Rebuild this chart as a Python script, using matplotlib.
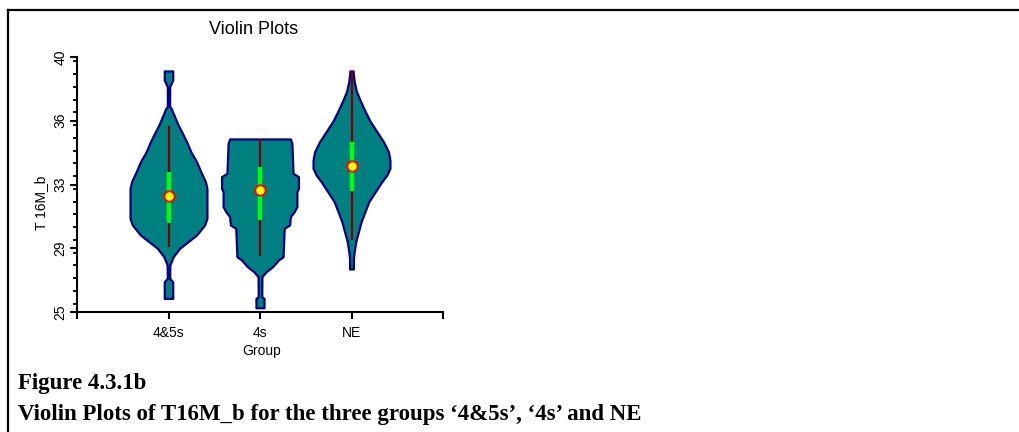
"""Violin plots of T16M_b for three groups, with the figure caption underneath."""

import matplotlib

matplotlib.use("Agg")

import matplotlib.pyplot as plt
from matplotlib.lines import Line2D
from matplotlib.ticker import MultipleLocator

# ---------------------------------------------------------------- data
GROUPS = ["4&5s", "4s", "NE"]

# Violin outlines: level of T16M_b and relative half-width.
LEVELS_45S = [39.18, 38.65, 38.25, 37.08, 36.98, 36.59, 36.00, 35.61, 35.02,
              34.43, 33.84, 33.25, 32.67, 32.27, 30.51, 30.12, 29.53, 29.14,
              28.75, 28.25, 27.76, 26.98, 26.78, 25.80]
WIDTHS_45S = [0.11, 0.11, 0.03, 0.03, 0.07, 0.14, 0.25, 0.34, 0.47,
              0.58, 0.73, 0.84, 0.96, 1.00, 1.00, 0.94, 0.73, 0.51,
              0.29, 0.12, 0.035, 0.03, 0.11, 0.11]

LEVELS_4S = [35.18, 34.92, 33.16, 32.96, 32.27, 32.08, 31.20, 30.90, 30.61,
             30.12, 29.92, 28.25, 28.06, 27.67, 27.37, 27.08, 25.90, 25.80,
             25.25]
WIDTHS_4S = [0.79, 0.83, 0.86, 1.00, 1.00, 0.96, 0.96, 0.89, 0.79,
             0.77, 0.63, 0.60, 0.48, 0.33, 0.16, 0.05, 0.045, 0.105,
             0.105]

LEVELS_NE = [39.18, 38.55, 37.96, 37.37, 36.78, 36.20, 35.61, 35.02, 34.43,
             33.94, 33.45, 33.06, 32.67, 32.08, 31.49, 30.90, 30.31, 29.72,
             29.14, 28.55, 28.16, 27.53]
WIDTHS_NE = [0.04, 0.07, 0.13, 0.24, 0.36, 0.49, 0.66, 0.83, 0.96,
             1.00, 1.00, 0.92, 0.79, 0.62, 0.45, 0.35, 0.25, 0.18,
             0.11, 0.07, 0.05, 0.05]

WHISKER_LOW = [28.84, 28.27, 29.24]
WHISKER_HIGH = [35.94, 35.18, 39.18]
Q1 = [30.24, 30.43, 32.11]
Q3 = [33.25, 33.55, 34.99]
MEDIANS = [31.82, 32.18, 33.58]

Y_TICK_VALUES = [25, 28.75, 32.5, 36.25, 40]
Y_TICK_LABELS = ["25", "29", "33", "36", "40"]

TITLE = "Violin Plots"
X_LABEL = "Group"
Y_LABEL = "T 16M_b"
CAPTION_1 = "Figure 4.3.1b"
CAPTION_2 = "Violin Plots of T16M_b for the three groups \u20184&5s\u2019, \u20184s\u2019 and NE"

# ---------------------------------------------------------------- style
FILL = "#008080"
EDGE = "#000080"
WHISKER = "#800000"
BOX = "#00ff00"
HALF_WIDTH = 0.42
SANS = "Liberation Sans"
SERIF = "Liberation Serif"

W, H = 1019, 432


def main() -> None:
    fig = plt.figure(figsize=(W / 100, H / 100), dpi=100)
    fig.patch.set_facecolor("white")

    ax = fig.add_axes([77 / W, 1 - 312 / H, 366 / W, 255 / H])
    ax.set_xlim(0, 4)
    ax.set_ylim(25, 40)

    outlines = [(LEVELS_45S, WIDTHS_45S), (LEVELS_4S, WIDTHS_4S), (LEVELS_NE, WIDTHS_NE)]
    for pos, (levels, widths) in enumerate(outlines, start=1):
        half = [w * HALF_WIDTH for w in widths]
        ax.fill_betweenx(levels, [pos - h for h in half], [pos + h for h in half],
                         facecolor=FILL, edgecolor=EDGE, linewidth=1.6, zorder=2)
        i = pos - 1
        ax.plot([pos, pos], [WHISKER_LOW[i], WHISKER_HIGH[i]], color=WHISKER,
                linewidth=1.6, solid_capstyle="butt", zorder=3)
        ax.plot([pos, pos], [Q1[i], Q3[i]], color=BOX, linewidth=3.2,
                solid_capstyle="butt", zorder=4)
        ax.plot(pos, MEDIANS[i], marker="o", markersize=7.5, markerfacecolor="#ffff00",
                markeredgecolor="#ff0000", markeredgewidth=1.4, zorder=5)

    for side in ("top", "right"):
        ax.spines[side].set_visible(False)
    for side in ("left", "bottom"):
        ax.spines[side].set_linewidth(1.5)

    ax.set_xticks([0, 1, 2, 3, 4])
    ax.set_xticklabels([""] + GROUPS + [""], fontfamily=SANS, fontsize=10)
    ax.tick_params(axis="x", direction="out", length=5, width=1.5, pad=5)

    ax.set_yticks(Y_TICK_VALUES)
    ax.set_yticklabels(Y_TICK_LABELS, fontfamily=SANS, fontsize=10,
                       rotation=90, va="center")
    ax.yaxis.set_minor_locator(MultipleLocator(0.75))
    ax.tick_params(axis="y", which="major", direction="out", length=5, width=1.5, pad=2)
    ax.tick_params(axis="y", which="minor", direction="out", length=3, width=1.3)

    fig.text(254 / W, 1 - 30 / H, TITLE, ha="center", va="center",
             fontfamily=SANS, fontsize=13)
    fig.text(262 / W, 1 - 351 / H, X_LABEL, ha="center", va="center",
             fontfamily=SANS, fontsize=10)
    fig.text(41 / W, 1 - 203 / H, Y_LABEL, ha="center", va="center", rotation=90,
             fontfamily=SANS, fontsize=10)

    fig.text(18 / W, 1 - 389 / H, CAPTION_1, ha="left", va="baseline",
             fontfamily=SERIF, fontweight="bold", fontsize=16.5)
    fig.text(18 / W, 1 - 420 / H, CAPTION_2, ha="left", va="baseline",
             fontfamily=SERIF, fontweight="bold", fontsize=16.5)

    # table-cell frame: top and left edges only
    fig.add_artist(Line2D([8 / W, 1.0], [1 - 10 / H, 1 - 10 / H], color="black",
                          linewidth=1.6, transform=fig.transFigure))
    fig.add_artist(Line2D([8 / W, 8 / W], [1 - 10 / H, 0.0], color="black",
                          linewidth=1.6, transform=fig.transFigure))

    fig.savefig("out.png", dpi=100, facecolor="white")
    plt.close(fig)


if __name__ == "__main__":
    main()
